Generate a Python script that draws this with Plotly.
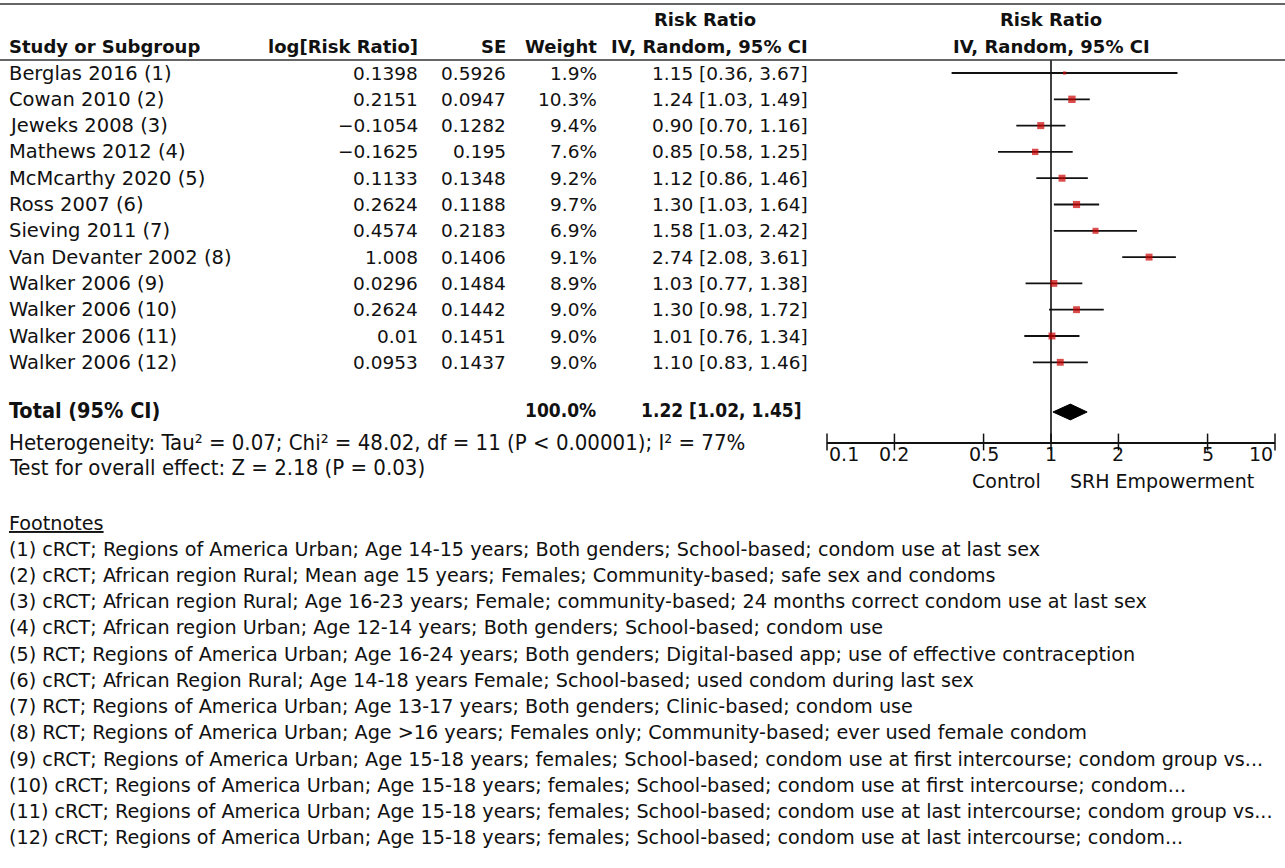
import plotly.graph_objects as go
import math

# ---------------- data ----------------
studies = ["Berglas 2016 (1)", "Cowan 2010 (2)", "Jeweks 2008 (3)", "Mathews 2012 (4)",
           "McMcarthy 2020 (5)", "Ross 2007 (6)", "Sieving 2011 (7)", "Van Devanter 2002 (8)",
           "Walker 2006 (9)", "Walker 2006 (10)", "Walker 2006 (11)", "Walker 2006 (12)"]
log_rr = [0.1398, 0.2151, -0.1054, -0.1625, 0.1133, 0.2624, 0.4574, 1.008, 0.0296, 0.2624, 0.01, 0.0953]
se = [0.5926, 0.0947, 0.1282, 0.195, 0.1348, 0.1188, 0.2183, 0.1406, 0.1484, 0.1442, 0.1451, 0.1437]
weight = [1.9, 10.3, 9.4, 7.6, 9.2, 9.7, 6.9, 9.1, 8.9, 9.0, 9.0, 9.0]
rr = [1.15, 1.24, 0.90, 0.85, 1.12, 1.30, 1.58, 2.74, 1.03, 1.30, 1.01, 1.10]
ci_lo = [0.36, 1.03, 0.70, 0.58, 0.86, 1.03, 1.03, 2.08, 0.77, 0.98, 0.76, 0.83]
ci_hi = [3.67, 1.49, 1.16, 1.25, 1.46, 1.64, 2.42, 3.61, 1.38, 1.72, 1.34, 1.46]

total_weight = 100.0
total_rr = 1.22
total_lo = 1.02
total_hi = 1.45

heterogeneity = "Heterogeneity: Tau² = 0.07; Chi² = 48.02, df = 11 (P < 0.00001); I² = 77%"
overall = "Test for overall effect: Z = 2.18 (P = 0.03)"

null_value = 1
tick_vals = [0.1, 0.2, 0.5, 1, 2, 5, 10]
tick_text = ["0.1", "0.2", "0.5", "1", "2", "5", "10"]
favours_left = "Control"
favours_right = "SRH Empowerment"

footnotes = [
    "(1) cRCT; Regions of America Urban; Age 14-15 years; Both genders; School-based; condom use at last sex",
    "(2) cRCT; African region Rural; Mean age 15 years; Females; Community-based; safe sex and condoms",
    "(3) cRCT; African region Rural; Age 16-23 years; Female; community-based; 24 months correct condom use at last sex",
    "(4) cRCT; African region Urban; Age 12-14 years; Both genders; School-based; condom use",
    "(5) RCT; Regions of America Urban; Age 16-24 years; Both genders; Digital-based app; use of effective contraception",
    "(6) cRCT; African Region Rural; Age 14-18 years Female; School-based; used condom during last sex",
    "(7) RCT; Regions of America Urban; Age 13-17 years; Both genders; Clinic-based; condom use",
    "(8) RCT; Regions of America Urban; Age >16 years; Females only; Community-based; ever used female condom",
    "(9) cRCT; Regions of America Urban; Age 15-18 years; females; School-based; condom use at first intercourse; condom group vs...",
    "(10) cRCT; Regions of America Urban; Age 15-18 years; females; School-based; condom use at first intercourse; condom...",
    "(11) cRCT; Regions of America Urban; Age 15-18 years; females; School-based; condom use at last intercourse; condom group vs...",
    "(12) cRCT; Regions of America Urban; Age 15-18 years; females; School-based; condom use at last intercourse; condom...",
]

# ---------------- layout constants ----------------
W, H = 1285, 868
ROW0, ROWH = 73.0, 26.3          # pixel y of first study row, row spacing
FONT = "DejaVu Sans"
NARROW = "DejaVu Sans Condensed, Liberation Sans Narrow, DejaVu Sans"
FS_TXT = 19.5
FS_FN = 19.2
FS_NUM = 18.5
FS_HDR = 18
FS_NAR = 22
BLACK = "#111111"

def row_of(py):
    return (py - ROW0) / ROWH

PLOT_TOP, PLOT_BOT = 60.0, 442.0
X_L, X_R = 827.0, 1275.0

n = len(studies)
rows = list(range(n))
total_row = row_of(412)
het_row = row_of(442)
test_row = row_of(467)
fn_head_row = row_of(523)
fn_rows = [row_of(549) + i * (26.27 / ROWH) for i in range(len(footnotes))]

fig = go.Figure()

# empty trace to instantiate table axes
fig.add_trace(go.Scatter(x=[], y=[], xaxis="x2", yaxis="y", showlegend=False))

# line of no effect
fig.add_trace(go.Scatter(x=[null_value, null_value], y=[row_of(PLOT_TOP), row_of(PLOT_BOT)],
                         mode="lines", xaxis="x", yaxis="y2", cliponaxis=False,
                         line=dict(color=BLACK, width=1.6), showlegend=False, hoverinfo="skip"))

# confidence intervals
ci_x, ci_y = [], []
for lo, hi, r in zip(ci_lo, ci_hi, rows):
    ci_x += [lo, hi, None]
    ci_y += [r, r, None]
fig.add_trace(go.Scatter(x=ci_x, y=ci_y, mode="lines", xaxis="x", yaxis="y2",
                         line=dict(color=BLACK, width=1.8), showlegend=False, hoverinfo="skip"))

# point estimates
fig.add_trace(go.Scatter(x=rr, y=rows, mode="markers", xaxis="x", yaxis="y2",
                         marker=dict(symbol="square", color="#cc0000",
                                     size=[2.3 * math.sqrt(w) for w in weight],
                                     line=dict(width=0)),
                         showlegend=False))

# diamond
fig.add_trace(go.Scatter(x=[total_lo, total_rr, total_hi, total_rr, total_lo],
                         y=[total_row, total_row - 0.3, total_row, total_row + 0.3, total_row],
                         mode="lines", fill="toself", fillcolor="black",
                         line=dict(color="black", width=1), xaxis="x", yaxis="y2",
                         showlegend=False))

# tick marks crossing the axis line
fig.add_trace(go.Scatter(x=tick_vals, y=[row_of(PLOT_BOT)] * len(tick_vals), mode="markers",
                         xaxis="x", yaxis="y2", cliponaxis=False,
                         marker=dict(symbol="line-ns", size=12, line=dict(color=BLACK, width=1.5)),
                         showlegend=False, hoverinfo="skip"))

ann = []
def txt(x, y, s, anchor="left", bold=False, font=FONT, size=FS_TXT, xref="x2", yref="y"):
    if bold:
        s = "<b>" + s + "</b>"
    ann.append(dict(x=x, y=y, xref=xref, yref=yref, text=s, showarrow=False,
                    xanchor=anchor, yanchor="middle",
                    font=dict(family=font, size=size, color=BLACK)))

# headers
hdr1, hdr2 = row_of(19), row_of(46)
txt(705, hdr1, "Risk Ratio", "center", True, size=FS_HDR)
txt(1051, hdr1, "Risk Ratio", "center", True, size=FS_HDR)
txt(7, hdr2, "Study or Subgroup", "left", True, size=FS_HDR)
txt(420, hdr2, "log[Risk Ratio]", "right", True, size=FS_HDR)
txt(508, hdr2, "SE", "right", True, size=FS_HDR)
txt(599, hdr2, "Weight", "right", True, size=FS_HDR)
txt(810, hdr2, "IV, Random, 95% CI", "right", True, size=FS_HDR)
txt(1051, hdr2, "IV, Random, 95% CI", "center", True, size=FS_HDR)

# study rows
for r, s, l, e, w, m, lo, hi in zip(rows, studies, log_rr, se, weight, rr, ci_lo, ci_hi):
    txt(7, r, s, "left")
    txt(420, r, str(l).replace("-", "\u2212"), "right", size=FS_NUM)
    txt(508, r, str(e), "right", size=FS_NUM)
    txt(599, r, f"{w:.1f}%", "right", size=FS_NUM)
    txt(810, r, f"{m:.2f} [{lo:.2f}, {hi:.2f}]", "right", size=FS_NUM)

# total
txt(7, row_of(410), "Total (95% CI)", "left", True, NARROW, 21.5)
txt(598, row_of(410), f"{total_weight:.1f}%", "right", True, NARROW, 19)
txt(804, row_of(410), f"{total_rr:.2f} [{total_lo:.2f}, {total_hi:.2f}]", "right", True, NARROW, 19)
txt(7, het_row, heterogeneity, "left", False, NARROW, FS_NAR)
txt(7, test_row, overall, "left", False, NARROW, FS_NAR)

# footnotes
txt(7, fn_head_row, "<u>Footnotes</u>", "left", size=FS_FN)
for fr, f in zip(fn_rows, footnotes):
    txt(7, fr, f, "left", size=FS_FN)

# axis tick labels & favours labels
for v, t in zip(tick_vals, tick_text):
    a = "left" if v == tick_vals[0] else ("right" if v == tick_vals[-1] else "center")
    ann.append(dict(x=math.log10(v), y=row_of(454), xref="x", yref="y", text=t, showarrow=False,
                    xanchor=a, yanchor="middle", font=dict(family=FONT, size=19, color=BLACK)))
ann.append(dict(x=math.log10(null_value), y=row_of(481), xref="x", yref="y", text=favours_left,
                showarrow=False, xanchor="right", xshift=-8, yanchor="middle",
                font=dict(family=FONT, size=19, color=BLACK)))
ann.append(dict(x=math.log10(null_value), y=row_of(481), xref="x", yref="y", text=favours_right,
                showarrow=False, xanchor="left", xshift=17, yanchor="middle",
                font=dict(family=FONT, size=19, color=BLACK)))

shapes = [
    dict(type="line", xref="paper", yref="y", x0=0, x1=1, y0=row_of(4), y1=row_of(4),
         line=dict(color="#333333", width=1.5)),
    dict(type="line", xref="paper", yref="y", x0=0, x1=1, y0=row_of(60), y1=row_of(60),
         line=dict(color="#333333", width=1.5)),
]

fig.update_layout(
    width=W, height=H, margin=dict(l=0, r=0, t=0, b=0),
    paper_bgcolor="white", plot_bgcolor="rgba(0,0,0,0)",
    annotations=ann, shapes=shapes, showlegend=False,
    xaxis=dict(type="log", range=[-1, 1], domain=[X_L / W, X_R / W], anchor="y2",
               showline=True, linecolor=BLACK, linewidth=1.5, showgrid=False, zeroline=False,
               showticklabels=False, ticks=""),
    yaxis2=dict(domain=[1 - PLOT_BOT / H, 1 - PLOT_TOP / H],
                range=[row_of(PLOT_BOT), row_of(PLOT_TOP)], visible=False, anchor="x"),
    xaxis2=dict(range=[0, W], domain=[0, 1], visible=False, anchor="y"),
    yaxis=dict(range=[row_of(H), row_of(0)], domain=[0, 1], visible=False, anchor="x2"),
)

fig.write_html("out.html", config={"displayModeBar": False},
               post_script="document.body.style.margin='0';")
